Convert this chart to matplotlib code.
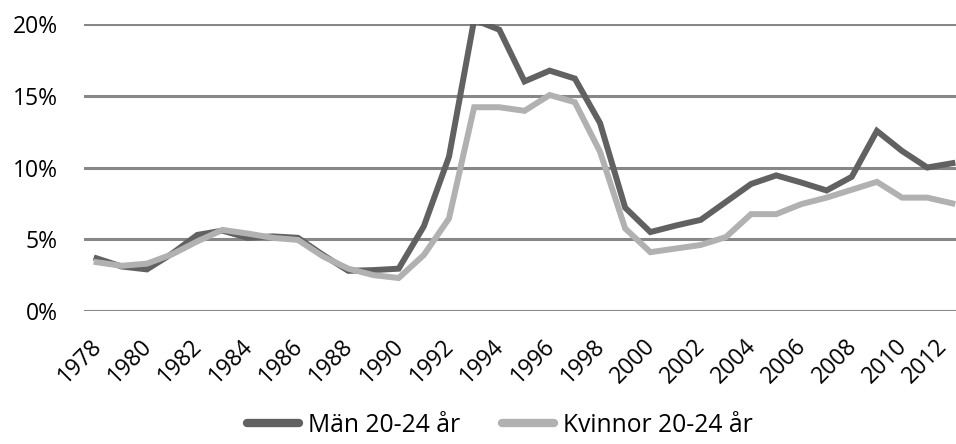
import matplotlib
matplotlib.use("Agg")
import matplotlib.pyplot as plt
from matplotlib.lines import Line2D
import matplotlib.transforms as mtrans

years = list(range(1978, 2013))
man = [3.67, 3.1, 2.9, 4.0, 5.3, 5.6, 5.1, 5.2, 5.1, 3.9, 2.8,
       2.85, 2.95, 5.9, 10.75, 20.3, 19.6, 16.0, 16.75, 16.2, 13.1, 7.2,
       5.5, 5.95, 6.35, 7.6, 8.85, 9.45, 8.95, 8.4, 9.35, 12.55, 11.15, 10.0, 10.3]
kvinnor = [3.4, 3.15, 3.3, 3.95, 4.85, 5.65, 5.4, 5.1, 4.95, 3.8, 2.95,
           2.5, 2.3, 3.9, 6.45, 14.2, 14.2, 13.95, 15.05, 14.55, 11.1, 5.75,
           4.1, 4.35, 4.6, 5.15, 6.75, 6.75, 7.45, 7.9, 8.45, 9.0, 7.9, 7.9, 7.5]
yticks = [0, 5, 10, 15, 20]
ytick_labels = ["0%", "5%", "10%", "15%", "20%"]
series_names = ["Män 20-24 år", "Kvinnor 20-24 år"]

dark = "#616161"
light = "#b1b1b1"
grid = "#878787"

plt.rcParams['font.family'] = ['Open Sans', 'DejaVu Sans']

fig = plt.figure(figsize=(9.56, 4.44), dpi=100)
ax = fig.add_axes([84/956, 133/444, (965-84)/956, 287/444])

x = list(range(len(years)))
ax.plot(x, man, color=dark, lw=4.3, solid_joinstyle='miter', zorder=3)
ax.plot(x, kvinnor, color=light, lw=4.3, solid_joinstyle='miter', zorder=4)

ax.set_xlim(-0.5, len(years) - 0.5)
ax.set_ylim(0, 20)
ax.set_yticks(yticks)
ax.set_yticklabels(ytick_labels)
for yv in yticks:
    ax.axhline(yv, color=grid, lw=2.2, zorder=1)

even_idx = [i for i, yr in enumerate(years) if yr % 2 == 0]
ax.set_xticks(even_idx)
ax.set_xticklabels([str(years[i]) for i in even_idx], rotation=45,
                   ha='right', va='top', rotation_mode='anchor')
ax.tick_params(axis='x', length=0, pad=17, labelsize=16.5)
ax.tick_params(axis='y', length=0, pad=19, labelsize=16.5)
labels = ax.get_xticklabels()
for i, lbl in enumerate(labels):
    dx = -7 if i < len(labels) - 1 else -17
    lbl.set_transform(lbl.get_transform() +
                      mtrans.ScaledTranslation(dx/100, 0, fig.dpi_scale_trans))

for s in ax.spines.values():
    s.set_visible(False)

handles = [Line2D([0], [0], color=dark, lw=6, solid_capstyle='round'),
           Line2D([0], [0], color=light, lw=6, solid_capstyle='round')]
fig.legend(handles, series_names, loc='center', bbox_to_anchor=(500/956, 19/444),
           ncol=2, frameon=False, fontsize=17.7, handlelength=2.1,
           handletextpad=0.37, columnspacing=1.7)

fig.savefig("out.png", dpi=100)
